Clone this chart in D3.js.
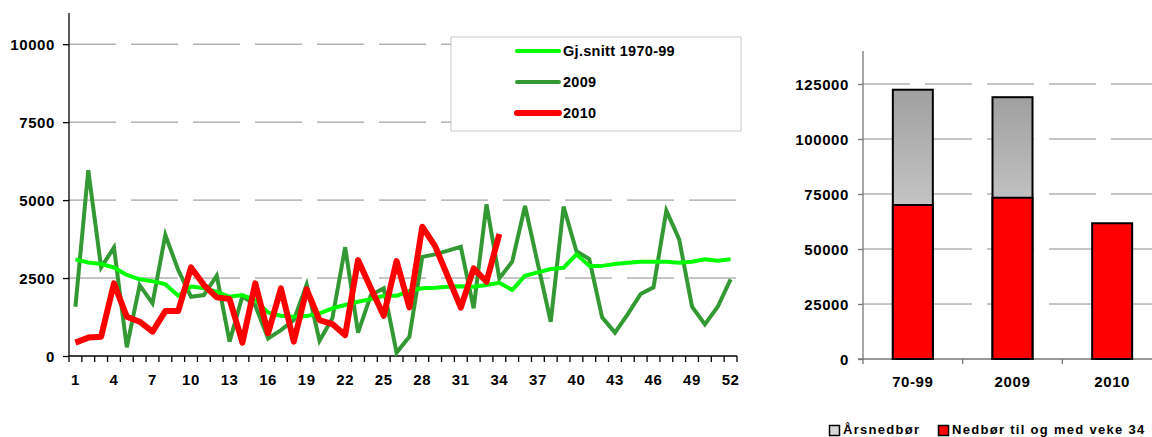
<!DOCTYPE html>
<html>
<head>
<meta charset="utf-8">
<script src="https://cdn.jsdelivr.net/npm/d3@7"></script>
<style>
  html, body { margin: 0; padding: 0; background: #fff; }
  svg { display: block; }
  text { font-family: "Liberation Sans", Arial, sans-serif; font-weight: bold; fill: #000; }
</style>
</head>
<body>
<svg id="chart" width="1152" height="437"></svg>
<script>
// ---------- DATA ----------
const weeks = d3.range(1, 53);
const weekTickLabels = [1, 4, 7, 10, 13, 16, 19, 22, 25, 28, 31, 34, 37, 40, 43, 46, 49, 52];
const leftYTicks = [0, 2500, 5000, 7500, 10000];

const avg7099 = [3100, 3000, 2950, 2840, 2600, 2460, 2400, 2300, 1930, 2230,
                 2170, 2060, 1900, 1955, 1795, 1390, 1290, 1260, 1280, 1370,
                 1530, 1635, 1740, 1825, 1930, 1930, 2090, 2170, 2190, 2220,
                 2240, 2220, 2275, 2350, 2115, 2575, 2680, 2790, 2830, 3260,
                 2890, 2890, 2950, 2990, 3025, 3025, 3025, 2990, 3025, 3100,
                 3055, 3100];
const y2009 = [1580, 5960, 2840, 3480, 280, 2275, 1690, 3880, 2760, 1900,
               1955, 2575, 460, 1920, 1620, 565, 830, 1150, 2290, 490,
               1210, 3490, 750, 1955, 2170, 110, 620, 3180, 3260, 3380,
               3500, 1530, 4860, 2490, 3025, 4810, 2950, 1100, 4790, 3360,
               3110, 1240, 750, 1345, 1990, 2200, 4660, 3740, 1580, 1015,
               1580, 2460];
const y2010 = [430, 590, 620, 2330, 1260, 1100, 780, 1440, 1440, 2840,
               2275, 1880, 1825, 430, 2330, 730, 2170, 460, 2135, 1150,
               1025, 670, 3075, 2170, 1290, 3045, 1560, 4145, 3525, 2540,
               1550, 2810, 2380, 3910];
const lineSeriesNames = ["Gj.snitt 1970-99", "2009", "2010"];

const barCategories = ["70-99", "2009", "2010"];
const annualPrecip = [122400, 119000, null];
const precipToWeek34 = [70000, 73300, 61700];
const rightYTicks = [0, 25000, 50000, 75000, 100000, 125000];
const barLegendNames = ["Årsnedbør", "Nedbør til og med veke 34"];

// ---------- SETUP ----------
const svg = d3.select("#chart");
const gridColor = "#8c8c8c";

// ---------- LEFT CHART ----------
const xL = d3.scaleBand().domain(weeks).range([69, 737]).padding(0);
const yL = d3.scaleLinear().domain([0, 11000]).range([356, 13]);
const cx = w => xL(w) + xL.bandwidth() / 2;

// gridlines
svg.append("g").selectAll("line").data(leftYTicks.filter(v => v > 0)).join("line")
  .attr("x1", 69).attr("x2", 737)
  .attr("y1", d => yL(d)).attr("y2", d => yL(d))
  .attr("stroke", gridColor).attr("stroke-width", 1)
  .attr("stroke-dasharray", "47,15");

// y axis
const yAxisL = svg.append("g").attr("transform", "translate(69,0)")
  .call(d3.axisLeft(yL).tickValues(leftYTicks).tickSize(6).tickPadding(8).tickFormat(d3.format("d")));
yAxisL.select(".domain").attr("d", `M0,${yL(11000)}V${yL(0)}`).attr("stroke", "#000").attr("stroke-width", 1.3);
yAxisL.selectAll(".tick line").attr("stroke", "#000").attr("stroke-width", 1.3);
yAxisL.selectAll(".tick text").attr("font-size", 15).attr("font-family", null)
  .style("letter-spacing", "0.6px").attr("dy", "0.36em");

// x axis
const xAxisL = svg.append("g").attr("transform", "translate(0,356)");
xAxisL.append("line").attr("x1", 69).attr("x2", 737).attr("y1", 0).attr("y2", 0)
  .attr("stroke", "#000").attr("stroke-width", 1.6);
xAxisL.selectAll("line.tk").data(weeks.concat([53])).join("line").attr("class", "tk")
  .attr("x1", d => d <= 52 ? xL(d) : 737).attr("x2", d => d <= 52 ? xL(d) : 737)
  .attr("y1", 0).attr("y2", 6).attr("stroke", "#000").attr("stroke-width", 1.3);
xAxisL.selectAll("text").data(weekTickLabels).join("text")
  .attr("x", d => cx(d)).attr("y", 29).attr("text-anchor", "middle")
  .attr("font-size", 15).style("letter-spacing", "0.6px").text(d => d);

// lines
const lineGen = d3.line().x((d, i) => cx(weeks[i])).y(d => yL(d));
svg.append("path").datum(y2009).attr("d", lineGen)
  .attr("fill", "none").attr("stroke", "#339933").attr("stroke-width", 4);
svg.append("path").datum(avg7099).attr("d", lineGen)
  .attr("fill", "none").attr("stroke", "#00ff00").attr("stroke-width", 4)
  .attr("stroke-linejoin", "round");
svg.append("path").datum(y2010).attr("d", lineGen)
  .attr("fill", "none").attr("stroke", "#ff0000").attr("stroke-width", 6)
  .attr("stroke-linejoin", "round");

// legend (left)
const lg = svg.append("g");
lg.append("rect").attr("x", 451).attr("y", 37).attr("width", 290).attr("height", 94)
  .attr("fill", "#fff").attr("stroke", "#c8c8c8").attr("stroke-width", 1);
const legendItems = [
  { name: lineSeriesNames[0], color: "#00ff00", w: 4 },
  { name: lineSeriesNames[1], color: "#339933", w: 4 },
  { name: lineSeriesNames[2], color: "#ff0000", w: 6 }
];
const lgY = [51, 82, 113];
legendItems.forEach((it, i) => {
  lg.append("line").attr("x1", 517).attr("x2", 559).attr("y1", lgY[i]).attr("y2", lgY[i])
    .attr("stroke", it.color).attr("stroke-width", it.w).attr("stroke-linecap", "round");
  lg.append("text").attr("x", 563).attr("y", lgY[i]).attr("dy", "0.36em")
    .attr("font-size", 14.5).style("letter-spacing", "0.3px").text(it.name);
});

// ---------- RIGHT CHART ----------
const xR = d3.scaleBand().domain(barCategories).range([863, 1162]).padding(0);
const yR = d3.scaleLinear().domain([0, 140000]).range([359, 51]);
const barW = 40;

const defs = svg.append("defs");
const grad = defs.append("linearGradient").attr("id", "greyGrad")
  .attr("x1", 0).attr("y1", 0).attr("x2", 0).attr("y2", 1);
grad.append("stop").attr("offset", "0%").attr("stop-color", "#a0a0a0");
grad.append("stop").attr("offset", "100%").attr("stop-color", "#f4f4f4");

// gridlines
svg.append("g").selectAll("line").data(rightYTicks.filter(v => v > 0)).join("line")
  .attr("x1", 863).attr("x2", 1152)
  .attr("y1", d => yR(d)).attr("y2", d => yR(d))
  .attr("stroke", gridColor).attr("stroke-width", 1)
  .attr("stroke-dasharray", "47,15");

// y axis
const yAxisR = svg.append("g").attr("transform", "translate(863,0)")
  .call(d3.axisLeft(yR).tickValues(rightYTicks).tickSize(5).tickPadding(9).tickFormat(d3.format("d")));
yAxisR.select(".domain").attr("d", `M0,${yR(140000)}V${yR(0)}`).attr("stroke", "#777").attr("stroke-width", 1.3);
yAxisR.selectAll(".tick line").attr("stroke", "#777").attr("stroke-width", 1.3);
yAxisR.selectAll(".tick text").attr("font-size", 15).attr("font-family", null)
  .style("letter-spacing", "0.6px").attr("dy", "0.36em");

// x axis
const xAxisR = svg.append("g").attr("transform", "translate(0,359)");
xAxisR.append("line").attr("x1", 858).attr("x2", 1152).attr("y1", 0).attr("y2", 0)
  .attr("stroke", "#777").attr("stroke-width", 1.3);
xAxisR.selectAll("line.tk").data(barCategories).join("line").attr("class", "tk")
  .attr("x1", d => xR(d)).attr("x2", d => xR(d)).attr("y1", 0).attr("y2", 5)
  .attr("stroke", "#777").attr("stroke-width", 1.3);
xAxisR.selectAll("text").data(barCategories).join("text")
  .attr("x", d => xR(d) + xR.bandwidth() / 2).attr("y", 28).attr("text-anchor", "middle")
  .attr("font-size", 15).style("letter-spacing", "0.6px").text(d => d);

// bars
const barsData = barCategories.map((c, i) => ({ c, annual: annualPrecip[i], w34: precipToWeek34[i] }));
svg.append("g").selectAll("rect").data(barsData.filter(d => d.annual != null)).join("rect")
  .attr("x", d => xR(d.c) + (xR.bandwidth() - barW) / 2).attr("width", barW)
  .attr("y", d => yR(d.annual)).attr("height", d => yR(0) - yR(d.annual))
  .attr("fill", "url(#greyGrad)").attr("stroke", "#000").attr("stroke-width", 2);
svg.append("g").selectAll("rect").data(barsData).join("rect")
  .attr("x", d => xR(d.c) + (xR.bandwidth() - barW) / 2).attr("width", barW)
  .attr("y", d => yR(d.w34)).attr("height", d => yR(0) - yR(d.w34))
  .attr("fill", "#ff0000").attr("stroke", "#000").attr("stroke-width", 2);

// legend (right) — kept just inside the bottom edge
const rl = svg.append("g");
rl.append("rect").attr("x", 829.5).attr("y", 425.5).attr("width", 10).attr("height", 10)
  .attr("fill", "#d8d8d8").attr("stroke", "#000").attr("stroke-width", 1.5);
rl.append("text").attr("x", 843).attr("y", 434).attr("font-size", 13)
  .style("letter-spacing", "1.3px").text(barLegendNames[0]);
rl.append("rect").attr("x", 938.5).attr("y", 425.5).attr("width", 10).attr("height", 10)
  .attr("fill", "#ff0000").attr("stroke", "#000").attr("stroke-width", 1.5);
rl.append("text").attr("x", 952).attr("y", 434).attr("font-size", 13)
  .style("letter-spacing", "1.3px").text(barLegendNames[1]);
</script>
</body>
</html>
